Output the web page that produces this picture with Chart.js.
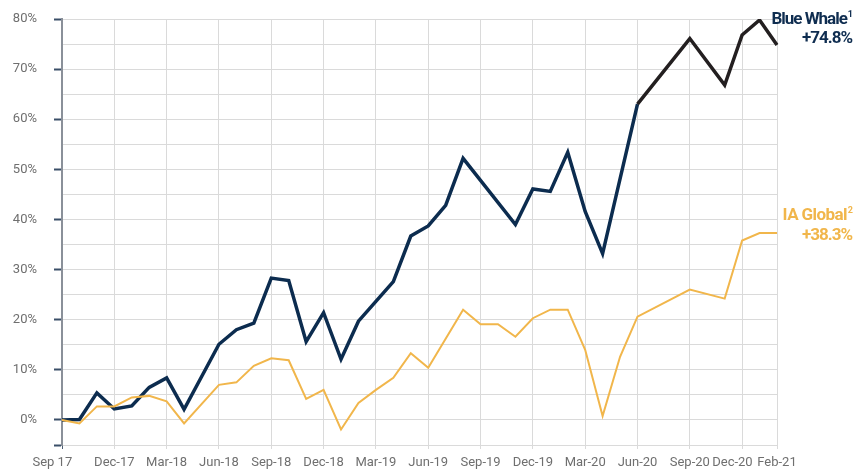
<!DOCTYPE html>
<html>
<head>
<meta charset="utf-8">
<script src="https://cdn.jsdelivr.net/npm/chart.js@4/dist/chart.umd.min.js"></script>
<style>
  html, body { margin: 0; padding: 0; background: #ffffff; }
  #wrap { position: relative; width: 866px; height: 473px; overflow: hidden; }
  canvas { position: absolute; left: 0; top: 0; }
  .lbl { position: absolute; right: 14px; font-family: Roboto, "Noto Sans", sans-serif; font-size: 17px; line-height: 17px; font-weight: 700; white-space: nowrap; text-align: right; }
  .lbl sup { font-size: 9px; vertical-align: 0; position: relative; top: -7px; letter-spacing: 0; margin-left: 1px; }
  .bw { color: #0f2d50; letter-spacing: -1px; }
  .ia { color: #f1b64b; letter-spacing: -0.6px; }
  .num { letter-spacing: -1px; }
</style>
</head>
<body>
<div id="wrap">
  <canvas id="c" width="866" height="473"></canvas>
  <div class="lbl bw" style="top:10px; right:13px;">Blue Whale<sup>1</sup></div>
  <div class="lbl bw num" style="top:29px;">+74.8%</div>
  <div class="lbl ia" style="top:206px; right:13px;">IA Global<sup>2</sup></div>
  <div class="lbl ia num" style="top:226px;">+38.3%</div>
</div>
<script>
// Monthly categories, Sep 2017 .. Feb 2021
const months = [
  "Sep 17","Oct-17","Nov-17","Dec-17",
  "Jan-18","Feb-18","Mar-18","Apr-18","May-18","Jun-18","Jul-18","Aug-18","Sep-18","Oct-18","Nov-18","Dec-18",
  "Jan-19","Feb-19","Mar-19","Apr-19","May-19","Jun-19","Jul-19","Aug-19","Sep-19","Oct-19","Nov-19","Dec-19",
  "Jan-20","Feb-20","Mar-20","Apr-20","May-20","Jun-20","Jul-20","Aug-20","Sep-20","Oct-20","Nov-20","Dec-20",
  "Jan-21","Feb-21"
];

// Cumulative performance (%); null = no point (line joins neighbours)
const blueWhale = [
  0, 0.1, 5.4, 2.2,
  2.8, 6.5, 8.4, 2.1, null, 15.1, 18.0, 19.3, 28.3, 27.8, 15.6, 21.4,
  12.1, 19.7, null, 27.6, 36.7, 38.7, 42.8, 52.2, null, null, 39.0, 46.1,
  45.6, 53.4, 41.6, 33.2, null, 63.0, null, null, 76.1, null, 66.8, 76.8,
  79.8, 74.8
];

const iaGlobal = [
  0, -0.7, 2.7, 2.7,
  4.5, 4.8, 3.7, -0.7, null, 7.0, 7.5, 10.8, 12.3, 11.9, 4.2, 6.0,
  -1.9, 3.4, 6.0, 8.4, 13.3, 10.4, null, 22.0, 19.1, 19.1, 16.6, 20.3,
  22.0, 22.0, 14.0, 0.8, 12.6, 20.6, null, null, 26.0, null, 24.2, 35.8,
  37.3, 37.3
];

const yMin = -5, yMax = 80, yStep = 5;

const isQuarter = (i) => i % 3 === 0 || i === months.length - 1;
const GRID = '#dadada';
const PAD6 = '\u0020\u0020\u0020\u0020\u0020\u0020';

new Chart(document.getElementById('c'), {
  type: 'line',
  data: {
    labels: months,
    datasets: [
      {
        label: 'IA Global',
        data: iaGlobal,
        borderColor: '#f1b64b',
        borderWidth: 2,
        pointRadius: 0,
        tension: 0,
        spanGaps: true,
        borderJoinStyle: 'miter',
        fill: false
      },
      {
        label: 'Blue Whale',
        data: blueWhale,
        borderColor: '#0c2c4f',
        borderWidth: 3.5,
        pointRadius: 0,
        tension: 0,
        spanGaps: true,
        borderJoinStyle: 'miter',
        fill: false,
        segment: {
          borderColor: ctx => ctx.p0DataIndex >= 33 ? '#231f20' : '#0c2c4f'
        }
      }
    ]
  },
  options: {
    responsive: false,
    animation: false,
    events: [],
    layout: { padding: { top: 19, right: 89, bottom: 0, left: 0 } },
    plugins: {
      legend: { display: false },
      tooltip: { enabled: false },
      title: { display: false }
    },
    scales: {
      x: {
        type: 'category',
        offset: false,
        border: { display: true, color: GRID, width: 1 },
        grid: {
          display: true,
          drawOnChartArea: true,
          drawTicks: true,
          tickLength: 4,
          color: ctx => isQuarter(ctx.index) ? GRID : 'rgba(0,0,0,0)',
          tickColor: ctx => ctx.index === 0 ? '#4c5f75' : (isQuarter(ctx.index) ? GRID : 'rgba(0,0,0,0)'),
          lineWidth: 1
        },
        ticks: {
          autoSkip: false,
          maxRotation: 0,
          minRotation: 0,
          padding: 6,
          color: '#6f6f6f',
          font: { family: 'Roboto', size: 13 },
          callback: function (v, i) {
            if (!isQuarter(i)) return '';
            // first and second-to-last labels sit slightly left of their grid line
            if (i === 0 || i === months.length - 3) return months[i] + PAD6;
            return months[i];
          }
        },
        afterFit: s => { s.height = 28; }
      },
      y: {
        min: yMin,
        max: yMax,
        border: { display: true, color: '#8a9099', width: 2 },
        grid: {
          display: true,
          drawTicks: true,
          tickLength: 8,
          color: GRID,
          lineWidth: 1,
          tickColor: ctx => (ctx.tick && (ctx.tick.value % 10 === 0 || ctx.tick.value === yMin)) ? '#3a4f68' : 'rgba(0,0,0,0)',
          tickWidth: 2
        },
        ticks: {
          stepSize: yStep,
          padding: 17,
          color: '#6f6f6f',
          font: { family: 'Roboto', size: 13 },
          callback: v => (v % 10 === 0 ? v + '%' : '')
        },
        afterFit: s => { s.width = 62; s.paddingTop = 0; s.paddingBottom = 0; }
      }
    }
  }
});
</script>
</body>
</html>
